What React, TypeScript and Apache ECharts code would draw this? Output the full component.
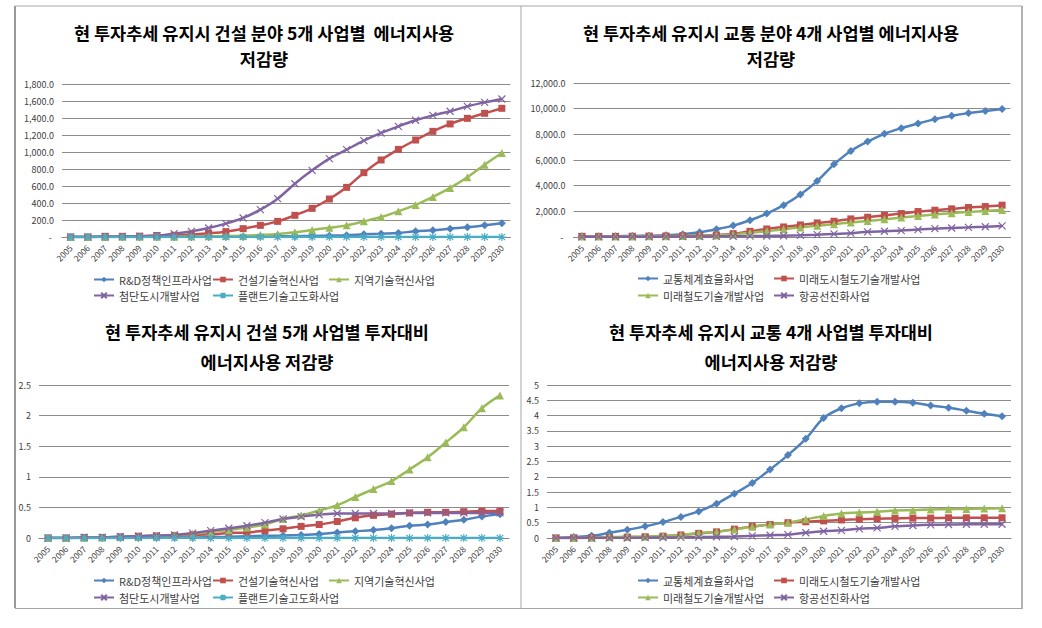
import React, { useEffect, useRef } from "react";
import * as echarts from "echarts";

const years = ["2005","2006","2007","2008","2009","2010","2011","2012","2013","2014","2015","2016","2017","2018","2019","2020","2021","2022","2023","2024","2025","2026","2027","2028","2029","2030"];

// 건설 분야 에너지사용 저감량
const cNames = ["R&D정책인프라사업", "건설기술혁신사업", "지역기술혁신사업", "첨단도시개발사업", "플랜트기술고도화사업"];
const cRD = [0,0,1,1,1,2,2,3,3,4,5,6,8,10,12,16,20,31,39,47,67,78,98,114,137,161];
const cTech = [0,0,8,8,10,18,20,28,43,63,98,137,184,255,337,447,584,757,906,1031,1141,1243,1330,1396,1455,1514];
const cRegion = [0,0,1,2,2,3,4,6,8,12,16,24,35,55,82,110,137,184,235,302,377,471,577,702,851,988];
const cCity = [0,0,3,5,8,15,39,67,106,157,224,322,451,627,784,922,1028,1133,1224,1302,1373,1431,1479,1537,1584,1624];
const cPlant = [0,0,0,0,0,0,0,0,0,0,0,0,0,0,0,0,0,0,0,0,0,0,0,0,0,0];

// 교통 분야 에너지사용 저감량
const tNames = ["교통체계효율화사업", "미래도시철도기술개발사업", "미래철도기술개발사업", "항공선진화사업"];
const tEff = [50,50,60,80,100,130,209,365,600,887,1305,1826,2479,3313,4357,5661,6705,7436,8036,8479,8845,9184,9445,9653,9810,9966];
const tUrban = [50,50,50,60,70,80,100,120,160,261,443,626,783,939,1096,1226,1409,1539,1696,1826,1983,2087,2192,2296,2374,2479];
const tRail = [30,30,30,40,50,60,80,100,120,200,330,460,600,750,880,1000,1130,1250,1380,1520,1640,1760,1860,1950,2030,2100];
const tAir = [20,20,20,20,20,30,30,40,50,60,70,80,100,130,180,240,300,400,450,500,580,650,700,750,800,861];

// 건설 투자대비 저감량
const rcRD = [0,0,0,0,0,0.005,0.005,0.01,0.01,0.015,0.02,0.03,0.035,0.04,0.05,0.065,0.09,0.11,0.13,0.16,0.2,0.22,0.26,0.3,0.35,0.39];
const rcTech = [0,0,0.01,0.01,0.02,0.03,0.035,0.04,0.05,0.06,0.08,0.09,0.12,0.15,0.19,0.22,0.27,0.33,0.37,0.39,0.41,0.42,0.42,0.43,0.44,0.44];
const rcRegion = [0,0,0.005,0.01,0.015,0.02,0.03,0.05,0.07,0.1,0.13,0.17,0.22,0.31,0.37,0.45,0.535,0.67,0.8,0.93,1.12,1.32,1.56,1.81,2.12,2.33];
const rcCity = [0,0,0.01,0.01,0.02,0.03,0.04,0.05,0.08,0.12,0.16,0.2,0.25,0.31,0.35,0.38,0.4,0.4,0.4,0.4,0.41,0.41,0.41,0.41,0.41,0.41];
const rcPlant = [0,0,0,0,0,0,0,0,0,0,0,0,0,0,0,0,0,0,0,0,0,0,0,0,0,0];

// 교통 투자대비 저감량
const rtEff = [0,0.03,0.07,0.17,0.27,0.38,0.52,0.69,0.87,1.12,1.45,1.8,2.24,2.71,3.24,3.92,4.24,4.4,4.45,4.45,4.42,4.33,4.26,4.16,4.06,3.98];
const rtUrban = [0,0,0.01,0.02,0.03,0.04,0.06,0.1,0.15,0.2,0.29,0.38,0.44,0.5,0.53,0.56,0.59,0.61,0.63,0.64,0.65,0.65,0.66,0.66,0.66,0.66];
const rtRail = [0,0,0.01,0.03,0.04,0.05,0.07,0.1,0.16,0.2,0.28,0.37,0.44,0.5,0.61,0.72,0.8,0.83,0.86,0.9,0.91,0.93,0.94,0.95,0.96,0.97];
const rtAir = [0,0,0,0,0,0.01,0.015,0.02,0.03,0.04,0.05,0.07,0.09,0.11,0.17,0.22,0.25,0.3,0.33,0.38,0.41,0.43,0.44,0.45,0.45,0.45];

const titles = [
  ["현 투자추세 유지시 건설 분야 5개 사업별  에너지사용", "저감량"],
  ["현 투자추세 유지시 교통 분야 4개 사업별 에너지사용", "저감량"],
  ["현 투자추세 유지시 건설 5개 사업별 투자대비", "에너지사용 저감량"],
  ["현 투자추세 유지시 교통 4개 사업별 투자대비", "에너지사용 저감량"],
];

const FONT = '"Noto Sans CJK KR", "Noto Sans", sans-serif';
const X_PATH = "path://M0,0L10,10M10,0L0,10";
const AST_PATH = "path://M5,0L5,10M0,5L10,5M1,1L9,9M9,1L1,9";

const STY = [
  { color: "#4F81BD", symbol: "diamond", size: 8, stroke: 0 },
  { color: "#C0504D", symbol: "rect", size: 7, stroke: 0 },
  { color: "#9BBB59", symbol: "triangle", size: 8, stroke: 0 },
  { color: "#8064A2", symbol: X_PATH, size: 7, stroke: 1.2 },
  { color: "#4BACC6", symbol: AST_PATH, size: 8, stroke: 1.2 },
];

function mk(name: string, data: number[], si: number, gi: number) {
  const s = STY[si];
  return {
    type: "line",
    name,
    data,
    xAxisIndex: gi,
    yAxisIndex: gi,
    smooth: 0.35,
    symbol: s.symbol,
    symbolSize: s.size,
    lineStyle: { color: s.color, width: 2.5 },
    itemStyle: s.stroke
      ? { color: s.color, borderColor: s.color, borderWidth: s.stroke }
      : { color: s.color, borderColor: s.color, borderWidth: 0 },
  };
}

const grids = [
  { left: 62, right: 531.5, top: 84, bottom: 391 },
  { left: 573.5, right: 31.5, top: 83, bottom: 391 },
  { left: 39, right: 533, top: 385, bottom: 90 },
  { left: 547, right: 31, top: 385, bottom: 90 },
];

const yCfg = [
  { max: 1800, interval: 200, acct: true },
  { max: 12000, interval: 2000, acct: true },
  { max: 2.5, interval: 0.5, acct: false },
  { max: 5, interval: 0.5, acct: false },
];

const titlePos = [
  { x: 264, y1: 32, y2: 58 },
  { x: 771, y1: 32, y2: 58 },
  { x: 267, y1: 331, y2: 361 },
  { x: 771, y1: 331, y2: 361 },
];

const legendPos = [
  [[93, 281], [212, 281], [328, 281], [93, 297], [212, 297]],
  [[637, 280], [773, 280], [637, 297], [773, 297]],
  [[93, 582], [212, 582], [328, 582], [93, 599], [212, 599]],
  [[637, 582], [773, 582], [637, 599], [773, 599]],
];

function fmtAcct(v: number) {
  if (v === 0) return "- ";
  return v.toLocaleString("en-US", { minimumFractionDigits: 1, maximumFractionDigits: 1 });
}

export default function App() {
  const ref = useRef<HTMLDivElement>(null);
  useEffect(() => {
    if (!ref.current) return;
    const chart = echarts.init(ref.current, null, { renderer: "svg" });

    const series: any[] = [
      mk(cNames[0], cRD, 0, 0), mk(cNames[1], cTech, 1, 0), mk(cNames[2], cRegion, 2, 0), mk(cNames[3], cCity, 3, 0), mk(cNames[4], cPlant, 4, 0),
      mk(tNames[0], tEff, 0, 1), mk(tNames[1], tUrban, 1, 1), mk(tNames[2], tRail, 2, 1), mk(tNames[3], tAir, 3, 1),
      mk(cNames[0], rcRD, 0, 2), mk(cNames[1], rcTech, 1, 2), mk(cNames[2], rcRegion, 2, 2), mk(cNames[3], rcCity, 3, 2), mk(cNames[4], rcPlant, 4, 2),
      mk(tNames[0], rtEff, 0, 3), mk(tNames[1], rtUrban, 1, 3), mk(tNames[2], rtRail, 2, 3), mk(tNames[3], rtAir, 3, 3),
    ];

    const legends: any[] = [];
    legendPos.forEach((arr, gi) => {
      const names = gi % 2 === 0 ? cNames : tNames;
      arr.forEach((p, i) => {
        legends.push({
          data: [names[i]],
          left: p[0],
          top: p[1] - 7,
          itemWidth: 20,
          itemHeight: 7,
          itemGap: 4,
          padding: 0,
          selectedMode: false,
          textStyle: { fontSize: 11, color: "#404040", fontFamily: FONT },
        });
      });
    });

    const graphics: any[] = [];
    titles.forEach((t, i) => {
      const p = titlePos[i];
      graphics.push({ type: "text", x: p.x, y: p.y1, style: { text: t[0], fill: "#000", font: `bold 17.5px ${FONT}`, textAlign: "center", textVerticalAlign: "middle" } });
      graphics.push({ type: "text", x: p.x, y: p.y2, style: { text: t[1], fill: "#000", font: `bold 17.5px ${FONT}`, textAlign: "center", textVerticalAlign: "middle" } });
    });
    const border = "#a6a6a6";
    graphics.push({ type: "line", shape: { x1: 15, y1: 6, x2: 15, y2: 608 }, style: { stroke: "#999", lineWidth: 2 } });
    graphics.push({ type: "line", shape: { x1: 15, y1: 6, x2: 1022, y2: 6 }, style: { stroke: border, lineWidth: 1 } });
    graphics.push({ type: "line", shape: { x1: 1022, y1: 6, x2: 1022, y2: 609 }, style: { stroke: "#999", lineWidth: 1.5 } });
    graphics.push({ type: "line", shape: { x1: 521, y1: 6, x2: 521, y2: 609 }, style: { stroke: border, lineWidth: 1 } });
    graphics.push({ type: "line", shape: { x1: 15, y1: 608.5, x2: 1022, y2: 608.5 }, style: { stroke: border, lineWidth: 1 } });

    chart.setOption({
      animation: false,
      textStyle: { fontFamily: FONT },
      grid: grids,
      xAxis: grids.map((_, gi) => ({
        type: "category",
        gridIndex: gi,
        data: years,
        boundaryGap: true,
        axisLine: { show: true, lineStyle: { color: "#868686", width: 1 } },
        axisTick: { show: false },
        axisLabel: { interval: 0, rotate: 45, fontSize: 8.5, color: "#404040", margin: 9, fontFamily: FONT },
        splitLine: { show: false },
      })),
      yAxis: yCfg.map((c, gi) => ({
        type: "value",
        gridIndex: gi,
        min: 0,
        max: c.max,
        interval: c.interval,
        axisLine: { show: false },
        axisTick: { show: false },
        axisLabel: {
          fontSize: 9,
          color: "#404040",
          margin: 8,
          fontFamily: FONT,
          formatter: c.acct ? (v: number) => fmtAcct(v) : (v: number) => String(Math.round(v * 10) / 10),
        },
        splitLine: { show: true, lineStyle: { color: "#8c8c8c", width: 1 } },
      })),
      legend: legends,
      series,
      graphic: graphics,
    });
    return () => chart.dispose();
  }, []);
  return <div ref={ref} style={{ position: "fixed", left: 0, top: 0, width: 1042, height: 628, background: "#fff" }} />;
}
